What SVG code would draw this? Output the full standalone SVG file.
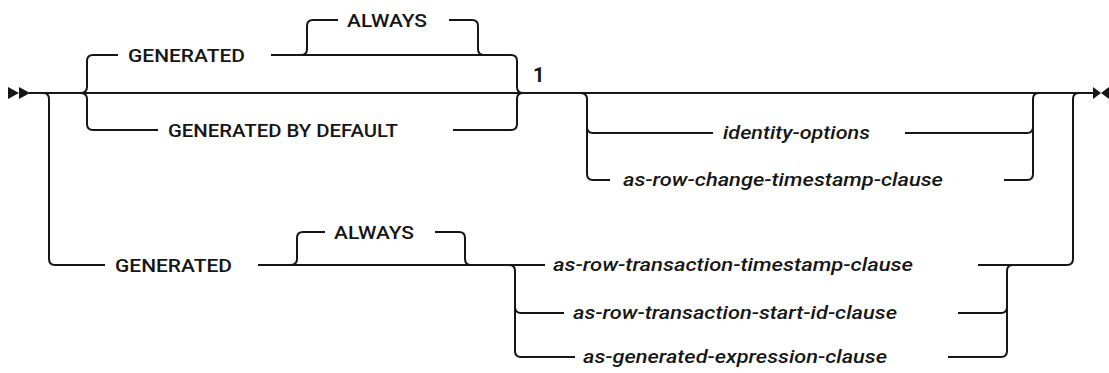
<svg xmlns="http://www.w3.org/2000/svg" width="1109" height="373" viewBox="0 0 1109 373">
<style>
.ln{fill:none;stroke:#161616;stroke-width:2}
.kw{font-family:Roboto,"Liberation Sans",Arial,sans-serif;font-size:18px;font-weight:500;fill:#161616}
.var{font-family:Roboto,"Liberation Sans",Arial,sans-serif;font-size:18.5px;font-weight:500;font-style:italic;fill:#161616}
.ah{fill:#161616}
</style>
<rect width="1109" height="373" fill="#ffffff"/>
<g id="connectors">
<path class="ln" d="M29,93 H1093"/>
<path class="ln" d="M80,93 Q87,93 87,87 V61 Q87,55 93,55 H118"/>
<path class="ln" d="M271,55 H511 Q517,55 517,61 V87 Q517,93 523,93"/>
<path class="ln" d="M301,55 Q307,55 307,49 V26 Q307,20 313,20 H338"/>
<path class="ln" d="M449,20 H472 Q478,20 478,26 V49 Q478,55 484,55"/>
<path class="ln" d="M80,93 Q87,93 87,99 V124 Q87,130 93,130 H158"/>
<path class="ln" d="M453,130 H511 Q517,130 517,124 V99 Q517,93 523,93"/>
<path class="ln" d="M580,93 Q587,93 587,99 V174 Q587,180 593,180 H610"/>
<path class="ln" d="M587,127 Q587,133 593,133 H713"/>
<path class="ln" d="M905,133 H1027 Q1033,133 1033,127"/>
<path class="ln" d="M1004,180 H1027 Q1033,180 1033,174 V99 Q1033,93 1039,93"/>
<path class="ln" d="M43,93 Q49,93 49,99 V259 Q49,265 55,265 H105"/>
<path class="ln" d="M258,265 H545"/>
<path class="ln" d="M978,265 H1067 Q1073,265 1073,259 V99 Q1073,93 1079,93"/>
<path class="ln" d="M290,265 Q297,265 297,259 V238 Q297,232 303,232 H325"/>
<path class="ln" d="M435,232 H459 Q465,232 465,238 V259 Q465,265 471,265"/>
<path class="ln" d="M509,265 Q515,265 515,271 V351 Q515,357 521,357 H575"/>
<path class="ln" d="M515,307 Q515,313 521,313 H564"/>
<path class="ln" d="M958,313 H1001 Q1007,313 1007,307"/>
<path class="ln" d="M948,357 H1001 Q1007,357 1007,351 V271 Q1007,265 1013,265"/>
<polygon class="ah" points="8,87 19,93 8,99"/>
<polygon class="ah" points="19,87 30,93 19,99"/>
<polygon class="ah" points="1093,87 1101,93 1093,99"/>
<polygon class="ah" points="1109,87 1101,93 1109,99"/>
</g>
<g id="n-generated1"><text class="kw" x="128" y="62" textLength="117" lengthAdjust="spacingAndGlyphs">GENERATED</text></g>
<g id="n-always1"><text class="kw" x="347" y="27" textLength="80" lengthAdjust="spacingAndGlyphs">ALWAYS</text></g>
<g id="n-bydefault"><text class="kw" x="168" y="137" textLength="230" lengthAdjust="spacingAndGlyphs">GENERATED BY DEFAULT</text></g>
<g id="n-note"><text class="kw" x="533" y="82" style="font-size:20px;font-weight:700">1</text></g>
<g id="n-identity"><text class="var" x="723" y="139" textLength="147" lengthAdjust="spacingAndGlyphs">identity-options</text></g>
<g id="n-rowchange"><text class="var" x="623" y="186" textLength="320" lengthAdjust="spacingAndGlyphs">as-row-change-timestamp-clause</text></g>
<g id="n-generated2"><text class="kw" x="115" y="272" textLength="117" lengthAdjust="spacingAndGlyphs">GENERATED</text></g>
<g id="n-always2"><text class="kw" x="334" y="239" textLength="80" lengthAdjust="spacingAndGlyphs">ALWAYS</text></g>
<g id="n-txts"><text class="var" x="553" y="271" textLength="360" lengthAdjust="spacingAndGlyphs">as-row-transaction-timestamp-clause</text></g>
<g id="n-txstart"><text class="var" x="573" y="319" textLength="324" lengthAdjust="spacingAndGlyphs">as-row-transaction-start-id-clause</text></g>
<g id="n-genexpr"><text class="var" x="583" y="363" textLength="304" lengthAdjust="spacingAndGlyphs">as-generated-expression-clause</text></g>
</svg>
